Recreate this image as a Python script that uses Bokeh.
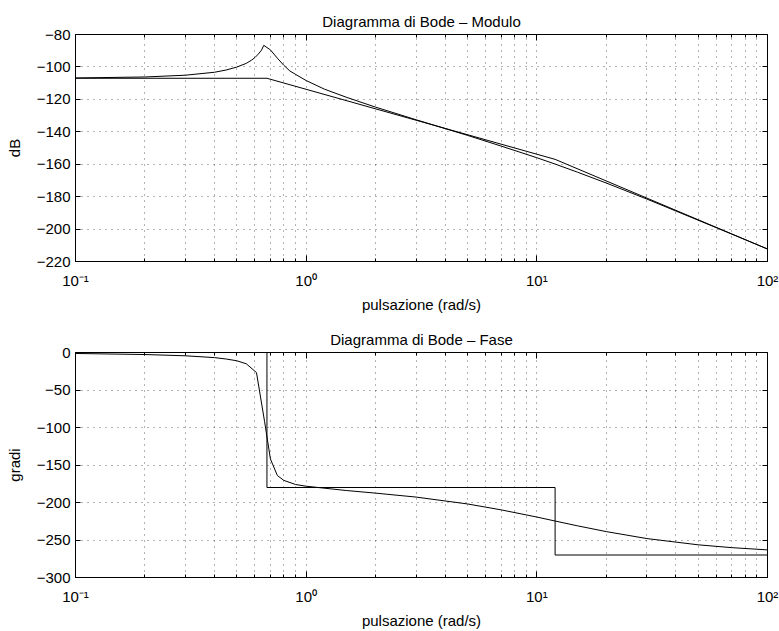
from bokeh.plotting import figure
from bokeh.models import Range1d, FixedTicker, LogAxis, LinearAxis, CustomJSTickFormatter
from bokeh.layouts import column
from bokeh.embed import file_html
from bokeh.resources import INLINE

FONT = "Liberation Sans"

# ---- data ----
mag_w = [0.1, 0.2, 0.3, 0.4, 0.45, 0.5, 0.55, 0.58, 0.6, 0.62, 0.64, 0.655,
         0.70, 0.75, 0.8, 0.85, 0.9, 1.0, 1.2, 1.5, 2, 3, 5, 7, 10, 12, 15,
         20, 30, 50, 70, 100]
mag_db = [-106.8, -106.2, -105.1, -103.3, -101.9, -100.1, -97.8, -95.8, -94.2,
          -92.1, -89.7, -86.7, -89.5, -94.6, -99.0, -102.5, -104.6, -108.4,
          -113.7, -118.8, -124.8, -132.6, -142.2, -148.8, -156.0, -159.9,
          -164.9, -171.6, -181.5, -194.5, -203.1, -212.3]

mag_asym_w = [0.1, 0.676, 12, 100]
mag_asym_db = [-107, -107, -157, -212.3]

phase_w = [0.1, 0.2, 0.3, 0.4, 0.45, 0.5, 0.55, 0.609, 0.66, 0.70, 0.75, 0.8,
           0.9, 1.0, 1.5, 2, 3, 5, 7, 10, 12, 15, 20, 30, 50, 70, 100]
phase_deg = [-1.3, -2.7, -4.4, -6.8, -8.7, -11.0, -15.0, -26.8, -91.7, -142,
             -164, -170.5, -176, -178.3, -184.1, -187.5, -192.8, -201.9,
             -209.8, -219.4, -224.7, -231.1, -238.8, -248.1, -256.4, -260.2,
             -263.2]

phase_asym_w = [0.1, 0.676, 0.676, 12, 12, 100]
phase_asym_deg = [0, 0, -180, -180, -270, -270]

x_major = [0.1, 1, 10, 100]
x_labels = ["10\u207b\u00b9", "10\u2070", "10\u00b9", "10\u00b2"]
x_minor = [0.2, 0.3, 0.4, 0.5, 0.6, 0.7, 0.8, 0.9,
           2, 3, 4, 5, 6, 7, 8, 9,
           20, 30, 40, 50, 60, 70, 80, 90]

mag_yticks = [-220, -200, -180, -160, -140, -120, -100, -80]
phase_yticks = [-300, -250, -200, -150, -100, -50, 0]

title_mag = "Diagramma di Bode \u2013 Modulo"
title_phase = "Diagramma di Bode \u2013 Fase"
xlabel = "pulsazione (rad/s)"
ylabel_mag = "dB"
ylabel_phase = "gradi"

GRID_DASH = "1 5"


def ylab(v):
    return str(v).replace("-", "\u2212")


def make_fig(title, ylabel, yticks, height, top, bottom):
    p = figure(width=779, height=height, x_axis_type="log",
               x_range=Range1d(x_major[0], x_major[-1]),
               y_range=Range1d(yticks[0], yticks[-1]),
               output_backend="svg", toolbar_location=None,
               min_border_left=75, min_border_right=12,
               min_border_top=top, min_border_bottom=bottom,
               title=title)
    p.title.align = "center"
    p.title.text_font = FONT
    p.title.text_font_size = "15px"
    p.title.text_font_style = "normal"
    p.title.text_color = "black"
    p.title.standoff = 10
    p.outline_line_color = "black"
    p.outline_line_width = 1
    p.outline_line_alpha = 1
    p.background_fill_color = "white"
    p.border_fill_color = "white"

    xt = FixedTicker(ticks=x_major, minor_ticks=x_minor)
    yt = FixedTicker(ticks=yticks, minor_ticks=[])

    xa = p.xaxis[0]
    xa.ticker = xt
    xa.major_label_overrides = {w: l for w, l in zip(x_major, x_labels)}
    xa.axis_label = xlabel
    ya = p.yaxis[0]
    ya.ticker = yt
    ya.major_label_overrides = {v: ylab(v) for v in yticks}
    ya.axis_label = ylabel

    for ax in (xa, ya):
        ax.axis_line_color = "black"
        ax.axis_line_width = 1
        ax.major_tick_line_color = "black"
        ax.minor_tick_line_color = "black"
        ax.major_tick_out = 0
        ax.minor_tick_out = 0
        ax.major_label_text_font = FONT
        ax.major_label_text_font_size = "15px"
        ax.major_label_text_color = "black"
        ax.axis_label_text_font = FONT
        ax.axis_label_text_font_size = "15px"
        ax.axis_label_text_font_style = "normal"
        ax.axis_label_text_color = "black"
    xa.major_tick_in = 6
    xa.minor_tick_in = 3
    xa.major_label_standoff = 10
    xa.axis_label_standoff = 4
    ya.major_tick_in = 5
    ya.minor_tick_line_color = None
    ya.major_label_standoff = 5
    ya.axis_label_standoff = 11

    top_ax = LogAxis(ticker=xt, formatter=CustomJSTickFormatter(code="return '';"),
                     axis_line_color=None,
                     major_tick_in=6, major_tick_out=0,
                     minor_tick_in=3, minor_tick_out=0,
                     major_tick_line_color="black", minor_tick_line_color="black",
                     major_label_standoff=0)
    p.add_layout(top_ax, "above")
    right_ax = LinearAxis(ticker=yt, formatter=CustomJSTickFormatter(code="return '';"),
                          axis_line_color=None,
                          major_tick_in=5, major_tick_out=0,
                          minor_tick_line_color=None,
                          major_tick_line_color="black",
                          major_label_standoff=0)
    p.add_layout(right_ax, "right")

    p.xgrid.ticker = xt
    p.ygrid.ticker = yt
    for g in (p.xgrid, p.ygrid):
        g.grid_line_color = "black"
        g.grid_line_alpha = 0.6
        g.grid_line_dash = GRID_DASH
        g.grid_line_width = 1
    p.xgrid.minor_grid_line_color = "black"
    p.xgrid.minor_grid_line_alpha = 0.6
    p.xgrid.minor_grid_line_dash = GRID_DASH
    p.xgrid.minor_grid_line_width = 1
    return p


p1 = make_fig(title_mag, ylabel_mag, mag_yticks, 315, 34, 52)
p1.line(mag_w, mag_db, line_color="black", line_width=1)
p1.line(mag_asym_w, mag_asym_db, line_color="black", line_width=1)

p2 = make_fig(title_phase, ylabel_phase, phase_yticks, 316, 37, 51)
p2.line(phase_w, phase_deg, line_color="black", line_width=1)
p2.line(phase_asym_w, phase_asym_deg, line_color="black", line_width=1)

layout = column(p1, p2, spacing=0)
open("out.html", "w").write(file_html(layout, INLINE))
